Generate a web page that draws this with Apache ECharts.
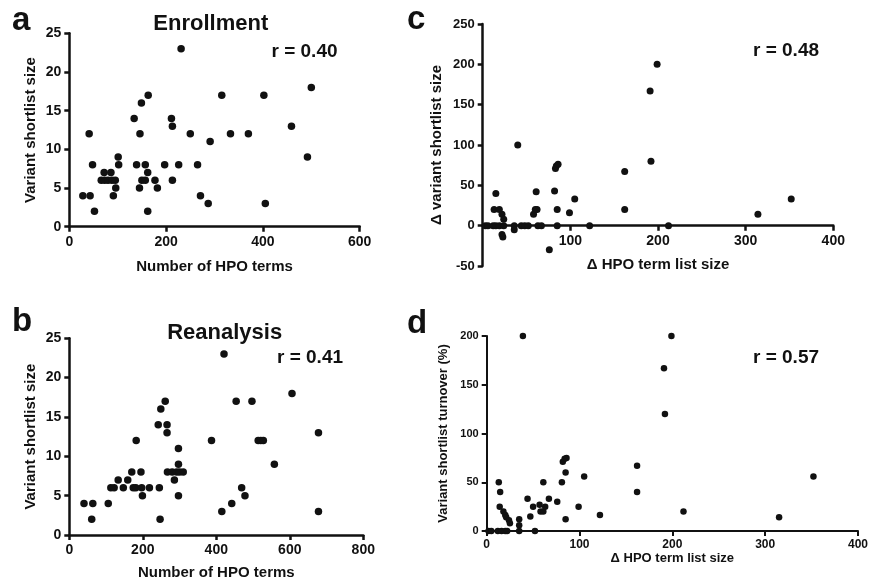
<!DOCTYPE html>
<html>
<head>
<meta charset="utf-8">
<script src="https://cdn.jsdelivr.net/npm/echarts@6/dist/echarts.min.js"></script>
<style>
html,body{margin:0;padding:0;background:#fff;}
#chart{width:871px;height:584px;}
</style>
</head>
<body>
<div id="chart"></div>
<script>
// Panel a: Enrollment
var aX = [28,43,41,48,52,66,73,80,88,95,72,86,91,96,101,102,134,139,145,146,149,150,157,157,162,163,162,177,182,197,211,213,213,226,231,250,265,271,287,291,315,333,370,402,405,459,492,500];
var aY = [4,4,12,8,2,6,6,6,6,6,7,7,4,5,9,8,14,8,5,12,16,6,6,8,7,17,2,6,5,8,14,13,6,8,23,12,8,4,3,11,17,12,12,17,3,13,9,18];
// Panel b: Reanalysis
var bX = [40,61,64,106,113,122,133,147,159,170,174,181,182,195,197,199,218,242,245,249,247,261,266,266,267,280,286,292,297,297,297,300,310,387,415,421,442,454,469,478,497,514,521,528,558,606,678,678];
var bY = [4,2,4,4,6,6,7,6,7,8,6,6,12,8,6,5,6,14,6,16,2,17,14,13,8,8,7,8,9,11,5,8,8,12,3,23,4,17,6,5,17,12,12,12,9,18,13,3];
// Panel c: delta variant shortlist size vs delta HPO term list size
var cX = [3,6,12,15,19,24,15,13,19,22,24,22,23,36,36,40,44,48,52,58,60,61,62,63,67,76,82,83,84,86,85,85,99,105,122,162,162,191,192,199,212,314,352];
var cY = [0,0,0,0,0,0,40,20,20,14,8,-11,-14,0,-5,100,0,0,0,14,20,42,20,0,0,-30,43,71,74,76,20,0,16,33,0,67,20,167,80,200,0,14,33];
// Panel d: variant shortlist turnover (%) vs delta HPO term list size
var dX = [2,5,12,16,20,22,13,14.5,14,18,20,21,24,25,35,35,35,39,44,47,50,52,57,58,61,61,63,67,76,81,82,84,86,85,85,99,105,122,162,162,191,192,199,212,315,352];
var dY = [0,0,0,0,0,0,50,40,25,20,16.5,14,11,8,12,6,0,200,33,15,25,0,27,20,20,50,25,33,30,50,71,74,75,60,12,25,56,16.5,67,40,167,120,200,20,14,56];

var titles = ['Enrollment','Reanalysis'];
var rLabels = ['r = 0.40','r = 0.41','r = 0.48','r = 0.57'];
var panelLetters = ['a','b','c','d'];
var xNames = ['Number of HPO terms','Number of HPO terms','\u0394 HPO term list size','\u0394 HPO term list size'];
var yNames = ['Variant shortlist size','Variant shortlist size','\u0394 variant shortlist size','Variant shortlist turnover (%)'];

var FF = "'Liberation Sans', Arial, Helvetica, sans-serif";
var C = '#111';

function pairs(xs, ys){ return xs.map(function(x,i){ return [x, ys[i]]; }); }

function axis(o){
  return {
    type:'value', gridIndex:o.g, min:o.min, max:o.max, interval:o.iv, offset:o.offset||0,
    name:o.name, nameLocation:'middle', nameGap:o.gap, nameRotate:o.rot,
    nameTextStyle:{color:C, fontSize:o.nfs, fontWeight:'bold', fontFamily:FF},
    axisLine:{show:true, onZero:false, lineStyle:{color:C, width:o.lw}},
    axisTick:{show:true, inside:false, length:5, lineStyle:{color:C, width:o.lw}},
    axisLabel:{color:C, fontSize:o.fs, fontWeight:'bold', fontFamily:FF, margin:o.margin||8, showMinLabel:o.showMin!==false},
    splitLine:{show:false}
  };
}

function txt(t, x, y, size, align){
  return {type:'text', x:x, y:y, style:{text:t, font:'bold '+size+'px '+FF, fill:C, textAlign:align||'left', textVerticalAlign:'middle', align:align||'left', verticalAlign:'middle'}};
}

var option = {
  backgroundColor:'#fff',
  animation:false,
  grid:[
    {left:69.3, top:33.3, width:290.4, height:193.4},
    {left:69.3, top:338.3, width:294, height:196.7},
    {left:482.7, top:24, width:350.6, height:242},
    {left:486.7, top:336, width:376, height:195}
  ],
  xAxis:[
    axis({g:0, min:0, max:600, iv:200, name:xNames[0], gap:33, nfs:15, fs:14, lw:2.5}),
    axis({g:1, min:0, max:800, iv:200, name:xNames[1], gap:30, nfs:15, fs:14, lw:2.5}),
    axis({g:2, min:0, max:400, iv:100, name:xNames[2], gap:32, nfs:15, fs:14, lw:2.5, offset:-40.3, showMin:false}),
    axis({g:3, min:0, max:400, iv:100, name:xNames[3], gap:20, nfs:13, fs:12, lw:2})
  ],
  yAxis:[
    axis({g:0, min:0, max:25, iv:5, name:yNames[0], gap:31, rot:90, nfs:15, fs:14, lw:2.5}),
    axis({g:1, min:0, max:25, iv:5, name:yNames[1], gap:31, rot:90, nfs:15, fs:14, lw:2.5}),
    axis({g:2, min:-50, max:250, iv:50, name:yNames[2], gap:38, rot:90, nfs:15, fs:13, lw:2.5}),
    axis({g:3, min:0, max:200, iv:50, name:yNames[3], gap:37, rot:90, nfs:13, fs:11, lw:2})
  ],
  series:[
    {type:'scatter', xAxisIndex:0, yAxisIndex:0, data:pairs(aX,aY), symbolSize:7.5, clip:false, itemStyle:{color:C, opacity:1}},
    {type:'scatter', xAxisIndex:1, yAxisIndex:1, data:pairs(bX,bY), symbolSize:7.5, clip:false, itemStyle:{color:C, opacity:1}},
    {type:'scatter', xAxisIndex:2, yAxisIndex:2, data:pairs(cX,cY), symbolSize:7, clip:false, itemStyle:{color:C, opacity:1}},
    {type:'scatter', xAxisIndex:3, yAxisIndex:3, data:pairs(dX,dY), symbolSize:6.5, clip:false, itemStyle:{color:C, opacity:1}}
  ],
  graphic:[
    txt(panelLetters[0], 12, 20.6, 33),
    txt(panelLetters[1], 12, 321.6, 33),
    txt(panelLetters[2], 407, 19.6, 33),
    txt(panelLetters[3], 407, 323.9, 33),
    txt(titles[0], 210.8, 23.8, 22, 'center'),
    txt(titles[1], 224.7, 332.5, 22, 'center'),
    txt(rLabels[0], 271.5, 52, 19),
    txt(rLabels[1], 277, 357.5, 19),
    txt(rLabels[2], 753, 51, 19),
    txt(rLabels[3], 753, 357.5, 19)
  ]
};

var chart = echarts.init(document.getElementById('chart'), null, {renderer:'canvas'});
chart.setOption(option);
</script>
</body>
</html>
